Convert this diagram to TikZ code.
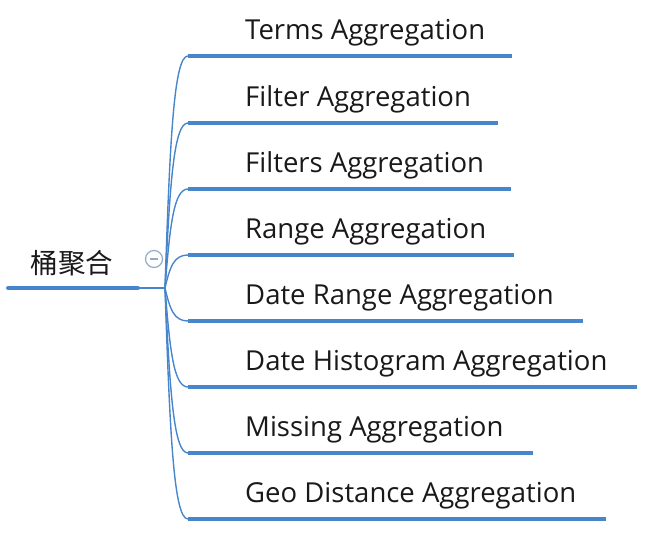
\documentclass[tikz,border=0pt]{standalone}
\usepackage{fontspec}
\setmainfont{Open Sans}
\newfontfamily\cjk{Noto Sans CJK SC}
\usetikzlibrary{calc}
\definecolor{branchblue}{RGB}{72,134,204}
\definecolor{foldgray}{RGB}{150,170,200}

\begin{document}
\begin{tikzpicture}[x=1pt,y=-1pt,
    topic/.style={anchor=base west,inner sep=0pt,text=black!90,font=\fontsize{27.5}{27.5}\selectfont},
    underline/.style={branchblue,line width=3.6pt},
    connector/.style={branchblue,line width=1.4pt}]
    \useasboundingbox (0,0) rectangle (661,536);

    % draw the root topic
    \node[anchor=base,inner sep=0pt,text=black!90,font=\cjk\fontsize{27.5}{27.5}\selectfont] (root) at (72,273) {桶聚合};
    \coordinate (rootl) at (8,288);
    \coordinate (rootr) at (138,288);
    \coordinate (trunk) at (165,288);
    \draw[underline,line width=4pt,line cap=round] (rootl) -- (rootr);
    \draw[connector] (rootr) -- (trunk);

    % draw the branches
    \foreach \y/\xe/\name/\txt in {56/512/terms/Terms Aggregation,
                                   123/498/filter/Filter Aggregation,
                                   189/511/filters/Filters Aggregation,
                                   255/514/range/Range Aggregation,
                                   321/583/daterange/Date Range Aggregation,
                                   387/637/histogram/Date Histogram Aggregation,
                                   453/533/missing/Missing Aggregation,
                                   519/606/geo/Geo Distance Aggregation}{
        \pgfmathsetmacro\cy{288-0.65*(288-\y)}
        \coordinate (\name-s) at (188,\y);
        \coordinate (\name-e) at (\xe,\y);
        \node[topic] (\name) at (245,{\y-17}) {\txt};
        \draw[connector] (trunk) .. controls (170,\cy) and (174,\y) .. (\name-s);
        \draw[underline] (\name-s) -- (\name-e);
    }

    % collapse button
    \node[circle,draw=foldgray,line width=1.2pt,fill=white,minimum size=17pt,inner sep=0pt] (fold) at (154,259) {};
    \draw[foldgray,line width=1.2pt] ($(fold.center)+(-4,0)$) -- ($(fold.center)+(4,0)$);
\end{tikzpicture}
\end{document}
